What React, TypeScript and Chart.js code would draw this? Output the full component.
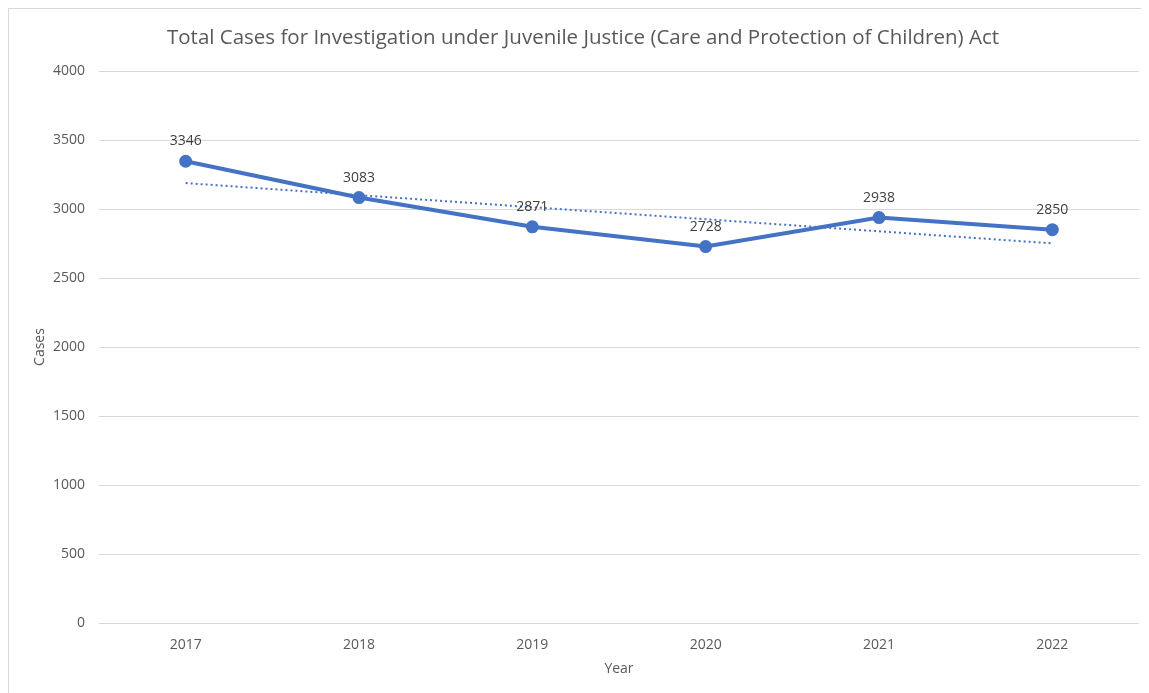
import React, { useEffect, useRef } from "react";
import { Chart, registerables } from "chart.js";

Chart.register(...registerables);

const years = ["2017", "2018", "2019", "2020", "2021", "2022"];
const cases = [3346, 3083, 2871, 2728, 2938, 2850];
const yTicks = [0, 500, 1000, 1500, 2000, 2500, 3000, 3500, 4000];
const titleText = "Total Cases for Investigation under Juvenile Justice (Care and Protection of Children) Act";

function linearTrend(vals: number[]): number[] {
  const n = vals.length;
  const mx = (n - 1) / 2;
  const my = vals.reduce((a, b) => a + b, 0) / n;
  let num = 0, den = 0;
  vals.forEach((v, i) => { num += (i - mx) * (v - my); den += (i - mx) * (i - mx); });
  const slope = num / den;
  return vals.map((_, i) => my + slope * (i - mx));
}

const FONT = "'Open Sans'";
const BLUE = "#4472C4";

const labelPlugin = {
  id: "dataLabels",
  afterDatasetsDraw(chart: any) {
    const meta = chart.getDatasetMeta(0);
    const ctx = chart.ctx;
    ctx.save();
    ctx.font = `14px ${FONT}`;
    ctx.fillStyle = "#404040";
    ctx.textAlign = "center";
    ctx.textBaseline = "middle";
    meta.data.forEach((pt: any, i: number) => {
      ctx.fillText(String(cases[i]), pt.x, pt.y - 20);
    });
    ctx.restore();
  },
};

export default function App() {
  const ref = useRef<HTMLCanvasElement>(null);
  useEffect(() => {
    document.body.style.overflow = "hidden";
    const chart = new Chart(ref.current!, {
      type: "line",
      data: {
        labels: years,
        datasets: [
          {
            data: cases,
            borderColor: BLUE,
            backgroundColor: BLUE,
            borderWidth: 4,
            pointRadius: 4.5,
            pointBackgroundColor: BLUE,
            pointBorderColor: BLUE,
            tension: 0,
          },
          {
            data: linearTrend(cases),
            borderColor: BLUE,
            borderWidth: 2,
            borderDash: [2, 3],
            pointRadius: 0,
            tension: 0,
          },
        ],
      },
      options: {
        animation: false,
        responsive: false,
        layout: { padding: { left: 18, right: 10, top: 0, bottom: 0 } },
        plugins: {
          legend: { display: false },
          tooltip: { enabled: false },
          title: {
            display: true,
            text: titleText,
            color: "#595959",
            font: { family: FONT, size: 20.5, weight: "normal" },
            padding: { top: 16.7, bottom: 20.7 },
          },
        },
        scales: {
          x: {
            offset: true,
            grid: { display: false },
            border: { display: false },
            ticks: { color: "#595959", font: { family: FONT, size: 14 }, padding: 6 },
            title: {
              display: true,
              text: "Year",
              color: "#595959",
              font: { family: FONT, size: 14 },
              padding: { top: 4, bottom: 16 },
            },
            afterFit(s: any) { s.height = 70; },
          },
          y: {
            min: 0,
            max: 4000,
            afterBuildTicks(s: any) { s.ticks = yTicks.map((v) => ({ value: v })); },
            grid: { color: "#d9d9d9", lineWidth: 1, drawTicks: false },
            border: { display: false },
            ticks: {
              color: "#595959",
              font: { family: FONT, size: 14 },
              padding: 14,
              callback: (v: any) => String(v),
            },
            title: {
              display: true,
              text: "Cases",
              color: "#595959",
              font: { family: FONT, size: 14 },
              padding: { top: 4.6, bottom: 0 },
            },
            afterFit(s: any) { s.width = 72; },
          },
        },
      },
      plugins: [labelPlugin],
    });
    return () => chart.destroy();
  }, []);
  return (
    <div
      style={{
        width: 1141,
        height: 685,
        borderLeft: "1px solid #d9d9d9",
        borderTop: "1px solid #d9d9d9",
        boxSizing: "border-box",
        background: "#fff",
      }}
    >
      <canvas ref={ref} width={1140} height={684} style={{ display: "block" }} />
    </div>
  );
}
